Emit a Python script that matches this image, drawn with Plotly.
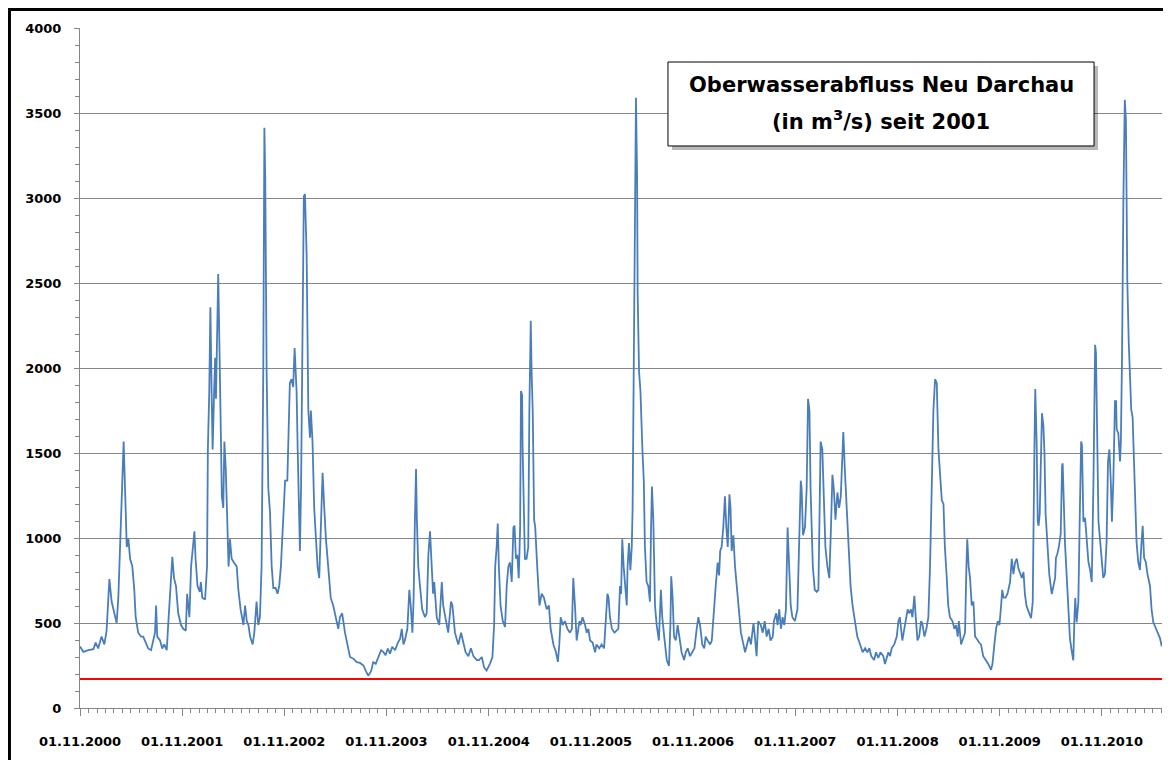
import pandas as pd
import plotly.graph_objects as go

# Tagesabfluss Neu Darchau: Tage seit 01.11.2000 und Abfluss in m3/s
days = [
    0, 12, 30, 48, 56, 65, 77, 87, 95, 105, 113, 123, 131, 137, 144, 151, 156, 161, 167, 173,
    179, 187, 194, 199, 208, 218, 226, 235, 244, 254, 262, 268, 272, 276, 286, 294, 301, 310, 316, 323,
    330, 336, 343, 351, 361, 369, 378, 383, 391, 397, 405, 409, 413, 420, 428, 432, 437, 447, 454, 457,
    462, 466, 471, 474, 479, 483, 486, 491, 494, 498, 503, 507, 512, 516, 521, 527, 531, 536, 542, 550,
    560, 566, 574, 584, 590, 596, 602, 608, 617, 623, 631, 637, 643, 649, 655, 659, 662, 667, 673, 679,
    685, 691, 699, 706, 712, 718, 727, 733, 741, 747, 750, 756, 762, 767, 771, 774, 778, 783, 786, 790,
    795, 800, 804, 810, 816, 822, 825, 831, 837, 843, 849, 855, 861, 867, 873, 879, 887, 896, 905, 915,
    923, 929, 937, 947, 955, 965, 977, 989, 1001, 1013, 1021, 1030, 1040, 1048, 1057, 1066, 1076, 1084, 1092, 1100,
    1108, 1116, 1126, 1135, 1144, 1150, 1156, 1161, 1170, 1177, 1182, 1188, 1192, 1197, 1201, 1204, 1209, 1215, 1223, 1233,
    1239, 1245, 1251, 1257, 1262, 1266, 1275, 1284, 1293, 1298, 1307, 1316, 1326, 1331, 1340, 1352, 1362, 1370, 1378, 1388,
    1397, 1406, 1418, 1426, 1436, 1444, 1453, 1465, 1474, 1480, 1484, 1489, 1493, 1497, 1503, 1511, 1519, 1525, 1531, 1537,
    1543, 1549, 1553, 1558, 1563, 1568, 1573, 1576, 1580, 1582, 1586, 1590, 1596, 1602, 1606, 1611, 1614, 1618, 1623, 1627,
    1634, 1642, 1650, 1658, 1668, 1676, 1682, 1692, 1701, 1708, 1713, 1718, 1725, 1733, 1742, 1751, 1758, 1763, 1769, 1775,
    1785, 1789, 1796, 1805, 1811, 1817, 1823, 1832, 1841, 1846, 1856, 1864, 1873, 1880, 1885, 1889, 1894, 1901, 1910, 1924,
    1930, 1934, 1938, 1943, 1948, 1954, 1957, 1962, 1967, 1972, 1975, 1979, 1984, 1987, 1991, 1993, 1998, 2003, 2010, 2015,
    2019, 2025, 2031, 2037, 2041, 2044, 2049, 2055, 2061, 2069, 2076, 2081, 2088, 2097, 2105, 2110, 2113, 2118, 2123, 2129,
    2136, 2142, 2150, 2159, 2165, 2172, 2180, 2188, 2196, 2204, 2210, 2216, 2224, 2231, 2236, 2243, 2252, 2258, 2263, 2272,
    2279, 2284, 2288, 2293, 2299, 2305, 2310, 2315, 2321, 2325, 2329, 2335, 2341, 2347, 2355, 2362, 2371, 2377, 2384, 2391,
    2398, 2403, 2407, 2412, 2418, 2424, 2433, 2440, 2447, 2454, 2461, 2468, 2476, 2480, 2488, 2493, 2499, 2505, 2511, 2517,
    2523, 2529, 2534, 2540, 2546, 2555, 2564, 2571, 2576, 2579, 2584, 2591, 2597, 2602, 2607, 2611, 2619, 2626, 2633, 2639,
    2644, 2647, 2653, 2658, 2664, 2671, 2678, 2684, 2689, 2694, 2700, 2707, 2713, 2719, 2725, 2728, 2734, 2740, 2747, 2754,
    2761, 2770, 2778, 2788, 2797, 2806, 2814, 2821, 2828, 2838, 2845, 2853, 2861, 2871, 2877, 2889, 2895, 2901, 2910, 2919,
    2925, 2930, 2934, 2939, 2946, 2952, 2958, 2963, 2970, 2975, 2982, 2987, 2993, 2999, 3006, 3010, 3018, 3025, 3032, 3038,
    3044, 3050, 3056, 3062, 3068, 3074, 3080, 3086, 3091, 3097, 3103, 3109, 3118, 3125, 3131, 3137, 3141, 3149, 3157, 3163,
    3168, 3171, 3176, 3181, 3187, 3193, 3199, 3205, 3213, 3220, 3228, 3237, 3246, 3256, 3261, 3268, 3274, 3280, 3286, 3292,
    3296, 3301, 3308, 3315, 3324, 3330, 3336, 3342, 3348, 3354, 3360, 3366, 3372, 3377, 3383, 3393, 3399, 3405, 3407, 3411,
    3414, 3419, 3423, 3426, 3430, 3435, 3438, 3443, 3447, 3451, 3457, 3464, 3473, 3479, 3485, 3488, 3493, 3499, 3505, 3510,
    3512, 3516, 3520, 3526, 3532, 3538, 3544, 3550, 3554, 3557, 3562, 3568, 3574, 3578, 3581, 3586, 3592, 3598, 3604, 3610,
    3616, 3622, 3628, 3631, 3636, 3640, 3645, 3651, 3657, 3663, 3669, 3674, 3679, 3684, 3688, 3693, 3699, 3703, 3705, 3711,
    3717, 3720, 3724, 3729, 3734, 3738, 3743, 3748, 3753, 3757, 3762, 3767, 3772, 3776, 3782, 3788, 3794, 3798, 3803, 3809,
    3815, 3824, 3830, 3836, 3842, 3848, 3854, 3860, 3866,
]

flow = [
    362, 330, 340, 346, 385, 350, 420, 374, 454, 759, 626, 557, 500, 649, 970, 1291, 1567, 1291, 947, 993,
    878, 833, 695, 534, 443, 420, 420, 385, 350, 340, 397, 443, 603, 420, 397, 350, 374, 340, 511, 718,
    890, 764, 718, 557, 488, 466, 454, 672, 534, 833, 970, 1039, 878, 718, 683, 741, 649, 638, 833, 1521,
    1865, 2358, 1796, 1521, 1842, 2060, 1819, 2209, 2553, 2163, 1635, 1245, 1177, 1567, 1406, 1062, 833, 993, 878, 856,
    833, 695, 580, 488, 603, 511, 488, 420, 374, 443, 626, 488, 534, 833, 1979, 3413, 3126, 1979, 1291, 1154,
    833, 706, 706, 672, 718, 833, 1177, 1337, 1337, 1681, 1911, 1934, 1888, 2117, 1979, 1865, 1521, 1062, 924, 1291,
    2209, 3011, 3023, 2667, 1750, 1590, 1750, 1567, 1177, 1016, 833, 764, 1062, 1383, 1177, 993, 833, 649, 603, 534,
    466, 534, 557, 443, 374, 300, 290, 270, 265, 250, 220, 190, 215, 270, 260, 300, 340, 330, 310, 350,
    320, 360, 340, 380, 408, 466, 374, 397, 466, 695, 603, 443, 626, 1108, 1406, 1108, 833, 718, 580, 534,
    557, 901, 1039, 833, 672, 741, 534, 488, 741, 603, 511, 443, 626, 603, 443, 374, 443, 374, 328, 305,
    351, 305, 282, 282, 300, 240, 220, 260, 300, 488, 833, 947, 1085, 833, 603, 511, 477, 718, 833, 856,
    741, 1062, 1073, 878, 901, 764, 1062, 1865, 1842, 1521, 1062, 878, 878, 947, 1750, 2278, 1979, 1750, 1108, 1062,
    833, 603, 672, 649, 580, 603, 466, 374, 328, 271, 374, 534, 488, 511, 466, 443, 466, 764, 603, 397,
    511, 488, 534, 488, 443, 466, 397, 385, 328, 374, 351, 374, 351, 534, 672, 649, 534, 466, 443, 466,
    718, 672, 993, 833, 741, 603, 833, 970, 810, 947, 1177, 1979, 2897, 3590, 3126, 2438, 1979, 1865, 1521, 1337,
    947, 741, 718, 626, 1062, 1303, 1108, 603, 488, 397, 695, 534, 420, 282, 248, 488, 775, 649, 420, 397,
    488, 420, 328, 282, 328, 351, 305, 328, 351, 466, 534, 488, 374, 351, 420, 397, 374, 397, 534, 718,
    856, 780, 924, 947, 1062, 1245, 1062, 947, 1257, 1177, 924, 1016, 833, 718, 603, 443, 374, 328, 374, 420,
    374, 443, 500, 420, 305, 511, 488, 443, 511, 420, 466, 397, 420, 511, 557, 488, 580, 466, 534, 488,
    580, 1062, 833, 603, 534, 511, 580, 1062, 1337, 1291, 1016, 1062, 1291, 1819, 1750, 1291, 833, 695, 683, 695,
    1291, 1567, 1521, 1291, 947, 833, 764, 1062, 1372, 1291, 1108, 1268, 1177, 1245, 1521, 1624, 1383, 1177, 947, 718,
    603, 511, 420, 374, 328, 351, 328, 351, 305, 282, 328, 294, 328, 305, 259, 328, 305, 351, 374, 420,
    511, 534, 466, 397, 466, 534, 580, 557, 580, 534, 660, 534, 397, 420, 511, 500, 420, 466, 534, 833,
    1406, 1750, 1934, 1911, 1521, 1383, 1222, 1200, 947, 787, 603, 534, 511, 466, 488, 420, 511, 374, 420, 443,
    833, 993, 833, 764, 603, 626, 420, 408, 385, 374, 305, 282, 259, 225, 259, 374, 466, 511, 488, 603,
    695, 649, 649, 672, 741, 878, 787, 856, 878, 820, 788, 765, 800, 670, 599, 552, 528, 623, 1096, 1521,
    1876, 1568, 1096, 1072, 1143, 1568, 1734, 1663, 1498, 1143, 977, 788, 670, 718, 765, 883, 907, 954, 1025, 1427,
    1439, 1214, 977, 788, 623, 410, 339, 280, 528, 647, 504, 623, 1214, 1568, 1544, 1096, 1119, 977, 859, 812,
    741, 1332, 2136, 2088, 1568, 1096, 1001, 859, 765, 788, 977, 1450, 1521, 1332, 1096, 1332, 1805, 1805, 1639, 1615,
    1450, 1568, 2042, 2987, 3578, 3460, 2514, 2160, 1852, 1757, 1710, 1450, 1214, 977, 859, 812, 977, 1072, 883, 859,
    788, 718, 576, 504, 481, 457, 434, 410, 363,
]

start = "2000-11-01"
end = "2011-06-04"
threshold = 170
years = list(range(2000, 2011))
tick_dates = ["%d-11-01" % y for y in years]
tick_labels = ["01.11.%d" % y for y in years]
title_lines = ["Oberwasserabfluss Neu Darchau", "(in m<sup>3</sup>/s) seit 2001"]

dates = pd.Timestamp(start) + pd.to_timedelta(days, unit="D")

axis_font = dict(family="DejaVu Sans", size=13, color="black", weight="bold")
grey = "#868686"

fig = go.Figure()
fig.add_trace(go.Scatter(x=dates, y=flow, mode="lines",
                         line=dict(color="#4A7EBB", width=1.8)))
fig.add_trace(go.Scatter(x=[start, end], y=[threshold, threshold], mode="lines",
                         line=dict(color="#FF0000", width=2)))

fig.update_xaxes(type="date", range=[start, end], automargin=False,
                 tickvals=tick_dates, ticktext=tick_labels,
                 showgrid=False, zeroline=False,
                 showline=True, linecolor=grey, linewidth=1,
                 ticks="outside", ticklen=7, tickcolor=grey,
                 ticklabelstandoff=14, tickfont=axis_font,
                 minor=dict(ticks="outside", dtick="M1", tick0=start,
                            ticklen=4, tickcolor=grey, showgrid=False))
fig.update_yaxes(range=[0, 4000], dtick=500, automargin=False,
                 showgrid=True, gridcolor=grey, gridwidth=1, zeroline=False,
                 showline=True, linecolor=grey, linewidth=1,
                 ticks="outside", ticklen=5, tickcolor=grey,
                 ticklabelstandoff=10, tickfont=axis_font,
                 minor=dict(ticks="outside", dtick=100, ticklen=4,
                            tickcolor=grey, showgrid=False))

# Titelkasten mit Schatten
fig.add_shape(type="rect", xref="paper", yref="paper",
              x0=0.5471, x1=0.9409, y0=0.8206, y1=0.9441,
              line=dict(width=0), fillcolor="rgba(0,0,0,0.28)")
fig.add_shape(type="rect", xref="paper", yref="paper",
              x0=0.5434, x1=0.9372, y0=0.8265, y1=0.95,
              line=dict(color="black", width=1), fillcolor="white")
for line_text, ypos in zip(title_lines, [0.9162, 0.8647]):
    fig.add_annotation(xref="paper", yref="paper", x=0.7403, y=ypos,
                       xanchor="center", yanchor="middle",
                       text=line_text, showarrow=False,
                       font=dict(family="DejaVu Sans", size=21, color="black", weight="bold"))

# Rahmen um das Diagramm
fig.add_shape(type="rect", xref="paper", yref="paper",
              x0=-0.0652, x1=1.2, y0=-0.3, y1=1.0272,
              line=dict(color="black", width=3), layer="below")

# die Seite hat 8 px Rand, daher etwas kleiner
fig.update_layout(width=1163, height=752, showlegend=False,
                  margin=dict(l=72, r=9, t=20, b=52),
                  plot_bgcolor="white", paper_bgcolor="white")

fig.write_html("out.html")
